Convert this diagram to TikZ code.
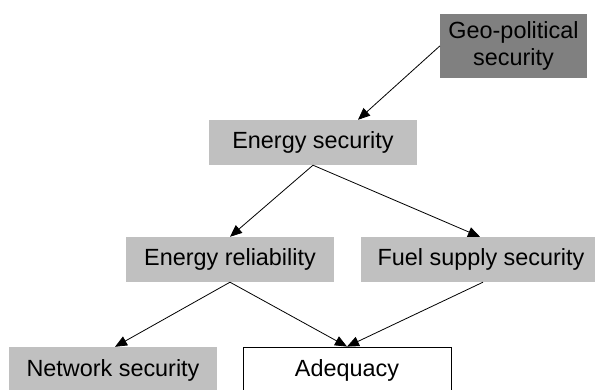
\documentclass[tikz,border=0pt]{standalone}
\usepackage{fontspec}
\setmainfont{Liberation Sans}
\usetikzlibrary{arrows.meta}
\definecolor{lightbox}{HTML}{C0C0C0}
\definecolor{darkbox}{HTML}{808080}
\begin{document}
\begin{tikzpicture}[x=1pt,y=-1pt,
  box/.style={rectangle, inner sep=0pt, minimum height=45pt, text=black,
    font=\fontsize{23.4}{27}\selectfont, align=center},
  lbox/.style={box, fill=lightbox},
  conn/.style={draw=black, line width=0.8pt, -{Triangle[length=12pt,width=10pt]}}]
\useasboundingbox (0,0) rectangle (595,390);
\clip (0,0) rectangle (595,390);
\fill[white] (0,0) rectangle (595,390);
\node[box, fill=darkbox, minimum width=147pt, minimum height=64pt] (geo) at (513.5,46) {Geo-political\\security};
\node[lbox, minimum width=208pt] (es) at (313,142.5) {Energy security};
\node[lbox, minimum width=208pt] (er) at (230,259.5) {Energy reliability};
\node[lbox, minimum width=240pt] (fs) at (481,259.5) {Fuel supply security};
\node[lbox, minimum width=208pt, minimum height=46pt] (ns) at (113,370) {Network security};
\node[box, fill=white, draw=black, line width=0.8pt, minimum width=208pt, minimum height=46pt] (ad) at (347,370) {Adequacy};
\draw[conn] (geo.west) -- ([xshift=45pt]es.north);
\draw[conn] (es.south) -- (er.north);
\draw[conn] (es.south) -- ([xshift=-1pt]fs.north);
\draw[conn] (er.south) -- ([xshift=2pt]ns.north);
\draw[conn] (er.south) -- (ad.north);
\draw[conn] ([xshift=2pt]fs.south) -- (ad.north);
\end{tikzpicture}
\end{document}
